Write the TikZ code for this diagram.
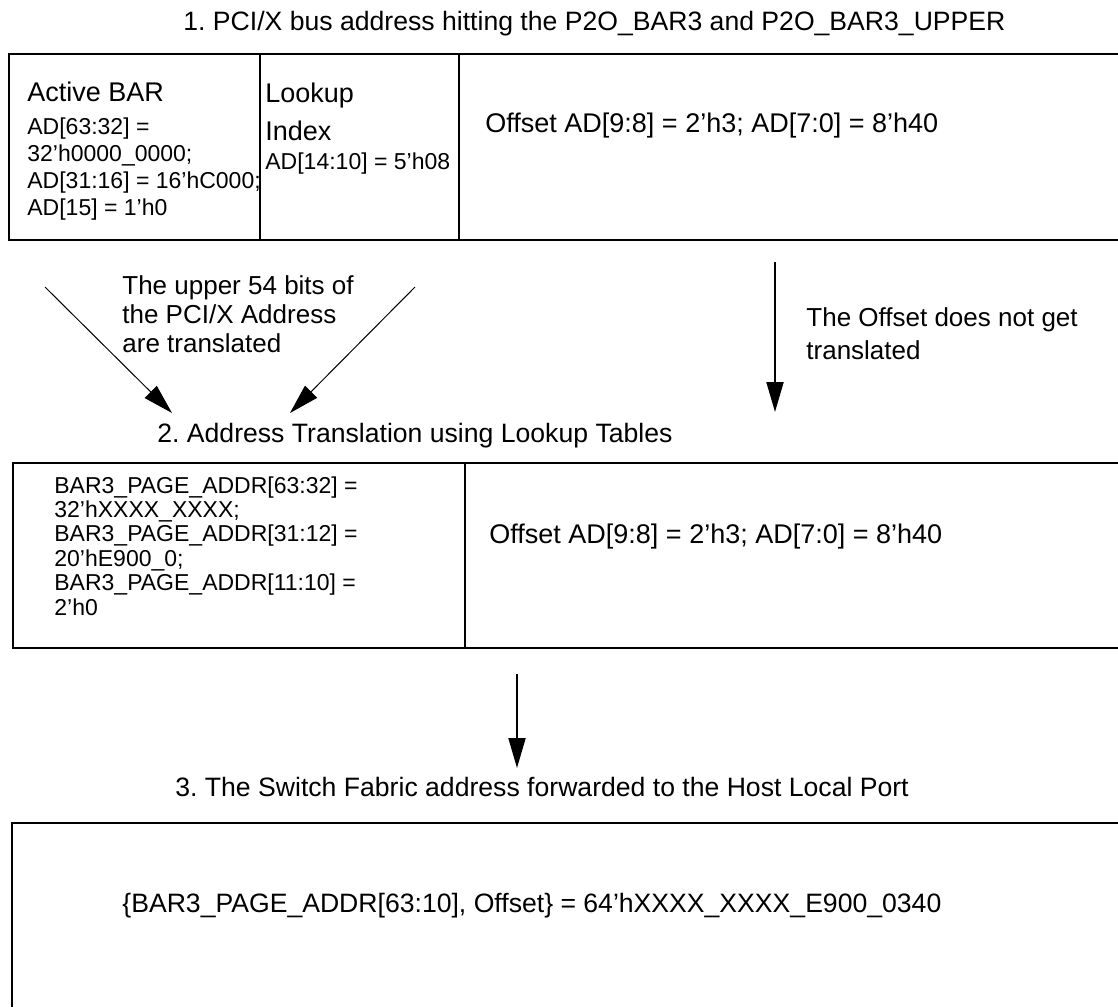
\documentclass[tikz,border=0pt]{standalone}
\usepackage{fontspec}
\setmainfont{Liberation Sans}
\frenchspacing
\usetikzlibrary{arrows.meta}
\usetikzlibrary{positioning}

\begin{document}
\begin{tikzpicture}[x=0.5pt, y=-0.5pt,
  rahmen/.style={line width=1.2pt},
  pfeil/.style={line width=1pt, -{Triangle[length=15pt, width=8.5pt]}},
  schraeg/.style={line width=0.5pt, -{Triangle[length=15pt, width=8.5pt]}},
  titel/.style={anchor=base west, inner sep=0pt, font=\fontsize{13.3}{15}\selectfont},
  gross/.style={anchor=base west, inner sep=0pt, font=\fontsize{13.5}{15}\selectfont},
  feld/.style={anchor=base west, inner sep=0pt, align=left, font=\fontsize{11.5}{13.5}\selectfont}]

  \useasboundingbox (0,0) rectangle (1118,1007);

  % Ecken der Tabellen
  \coordinate (A1) at (9,54);    \coordinate (A2) at (9,240);
  \coordinate (B1) at (13,463);  \coordinate (B2) at (13,648);
  \coordinate (C1) at (12,823);  \coordinate (C2) at (12,1007);

  % Tabelle 1
  \draw[rahmen] (1118,54) -- (A1) -- (A2) -- (1118,240);
  \draw[rahmen] (260,54) -- (260,240);
  \draw[rahmen] (459,54) -- (459,240);

  % Tabelle 2
  \draw[rahmen] (1118,463) -- (B1) -- (B2) -- (1118,648);
  \draw[rahmen] (465,463) -- (465,648);

  % Tabelle 3
  \draw[rahmen] (1118,823) -- (C1) -- (C2);

  % Ueberschriften
  \node[titel] (titel1) at (183,30) {1. PCI/X bus address hitting the P2O\_BAR3 and P2O\_BAR3\_UPPER};
  \node[titel] (titel2) at (157,442) {2. Address Translation using Lookup Tables};
  \node[titel] (titel3) at (175,796) {3. The Switch Fabric address forwarded to the Host Local Port};

  % Inhalt Tabelle 1 (Anker an der letzten Zeile)
  \node[feld] (bar) at (27,215) {{\fontsize{13.5}{15}\selectfont Active BAR}\\[3pt]AD[63:32] =\\32'h0000\_0000;\\AD[31:16] = 16'hC000;\\AD[15] = 1'h0};
  \node[feld] (index) at (265,169) {{\fontsize{13.5}{15}\selectfont Lookup}\\[5.5pt]{\fontsize{13.5}{15}\selectfont Index}\\[1pt]AD[14:10] = 5'h08};
  \node[gross] (offset1) at (485,132) {Offset AD[9:8] = 2'h3; AD[7:0] = 8'h40};

  % Inhalt Tabelle 2
  \node[feld, font=\fontsize{11.5}{12.2}\selectfont] (page) at (54,615) {BAR3\_PAGE\_ADDR[63:32] =\\32'hXXXX\_XXXX;\\BAR3\_PAGE\_ADDR[31:12] =\\20'hE900\_0;\\BAR3\_PAGE\_ADDR[11:10] =\\2'h0};
  \node[gross] (offset2) at (489,543) {Offset AD[9:8] = 2'h3; AD[7:0] = 8'h40};

  % Inhalt Tabelle 3
  \node[titel] (ziel) at (122,912) {\{BAR3\_PAGE\_ADDR[63:10], Offset\} = 64'hXXXX\_XXXX\_E900\_0340};

  % Erklaerungen
  \node[feld, font=\fontsize{13}{14.5}\selectfont] (upper) at (122,352) {The upper 54 bits of\\the PCI/X Address\\are translated};
  \node[feld, font=\fontsize{13}{16.5}\selectfont] (keine) at (806,359) {The Offset does not get\\translated};

  % Pfeile
  \coordinate (l1) at (45,287);   \coordinate (l2) at (172,413);
  \coordinate (r1) at (415,287);  \coordinate (r2) at (290,413);
  \coordinate (o1) at (775,262);  \coordinate (o2) at (775,412);
  \coordinate (u1) at (517,674);  \coordinate (u2) at (517,768);

  \draw[schraeg] (l1) -- (l2);
  \draw[schraeg] (r1) -- (r2);
  \draw[pfeil] (o1) -- (o2);
  \draw[pfeil] (u1) -- (u2);

\end{tikzpicture}
\end{document}
